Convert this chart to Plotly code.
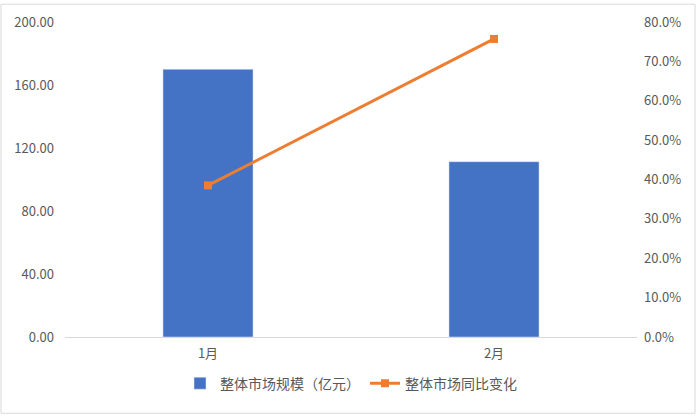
import plotly.graph_objects as go

months = ["1月", "2月"]
market_size = [170.0, 111.3]
yoy_change = [0.385, 0.757]

left_ticks = [0, 40, 80, 120, 160, 200]
right_ticks = [0, 0.1, 0.2, 0.3, 0.4, 0.5, 0.6, 0.7, 0.8]

font_cjk = "Noto Sans CJK SC, Microsoft YaHei, sans-serif"
grey = "#595959"

fig = go.Figure()

fig.add_trace(go.Bar(
    x=months,
    y=market_size,
    name="整体市场规模（亿元）",
    marker_color="#4472C4",
    width=0.315,
))

fig.add_trace(go.Scatter(
    x=months,
    y=yoy_change,
    name="整体市场同比变化",
    mode="lines+markers",
    line=dict(color="#ED7D31", width=3),
    marker=dict(symbol="square", size=8, color="#ED7D31"),
    yaxis="y2",
))

fig.update_layout(
    width=697,
    height=416,
    margin=dict(l=65, r=60, t=19, b=79),
    plot_bgcolor="white",
    paper_bgcolor="white",
    font=dict(family=font_cjk, size=13, color=grey),
    showlegend=True,
    legend=dict(
        orientation="h",
        x=0.5,
        xanchor="center",
        y=-0.148,
        yanchor="middle",
        font=dict(size=14, color=grey),
        traceorder="normal",
    ),
    xaxis=dict(
        showgrid=False,
        showline=True,
        linecolor="#D9D9D9",
        linewidth=1,
        ticks="",
        ticklabelstandoff=4,
        tickfont=dict(size=13, color=grey),
    ),
    yaxis=dict(
        range=[0, 200],
        tickvals=left_ticks,
        ticktext=[f"{v:.2f}" for v in left_ticks],
        showgrid=False,
        zeroline=False,
        showline=False,
        ticks="",
        ticklabelstandoff=10,
        tickfont=dict(size=13, color=grey),
    ),
    yaxis2=dict(
        range=[0, 0.8],
        tickvals=right_ticks,
        ticktext=[f"{v*100:.1f}%" for v in right_ticks],
        overlaying="y",
        side="right",
        showgrid=False,
        zeroline=False,
        showline=False,
        ticks="",
        ticklabelstandoff=6,
        tickfont=dict(size=13, color=grey),
    ),
    shapes=[dict(
        type="rect",
        xref="paper",
        yref="paper",
        x0=-0.1119,
        x1=1.1014,
        y0=-0.242,
        y1=1.0566,
        line=dict(color="#D9D9D9", width=1),
        fillcolor="rgba(0,0,0,0)",
        layer="below",
    )],
)

# drop the default page margin so the figure sits at the window's corner
fig.write_html(
    "out.html",
    config={"displayModeBar": False},
    post_script="document.body.style.margin='0';",
)
